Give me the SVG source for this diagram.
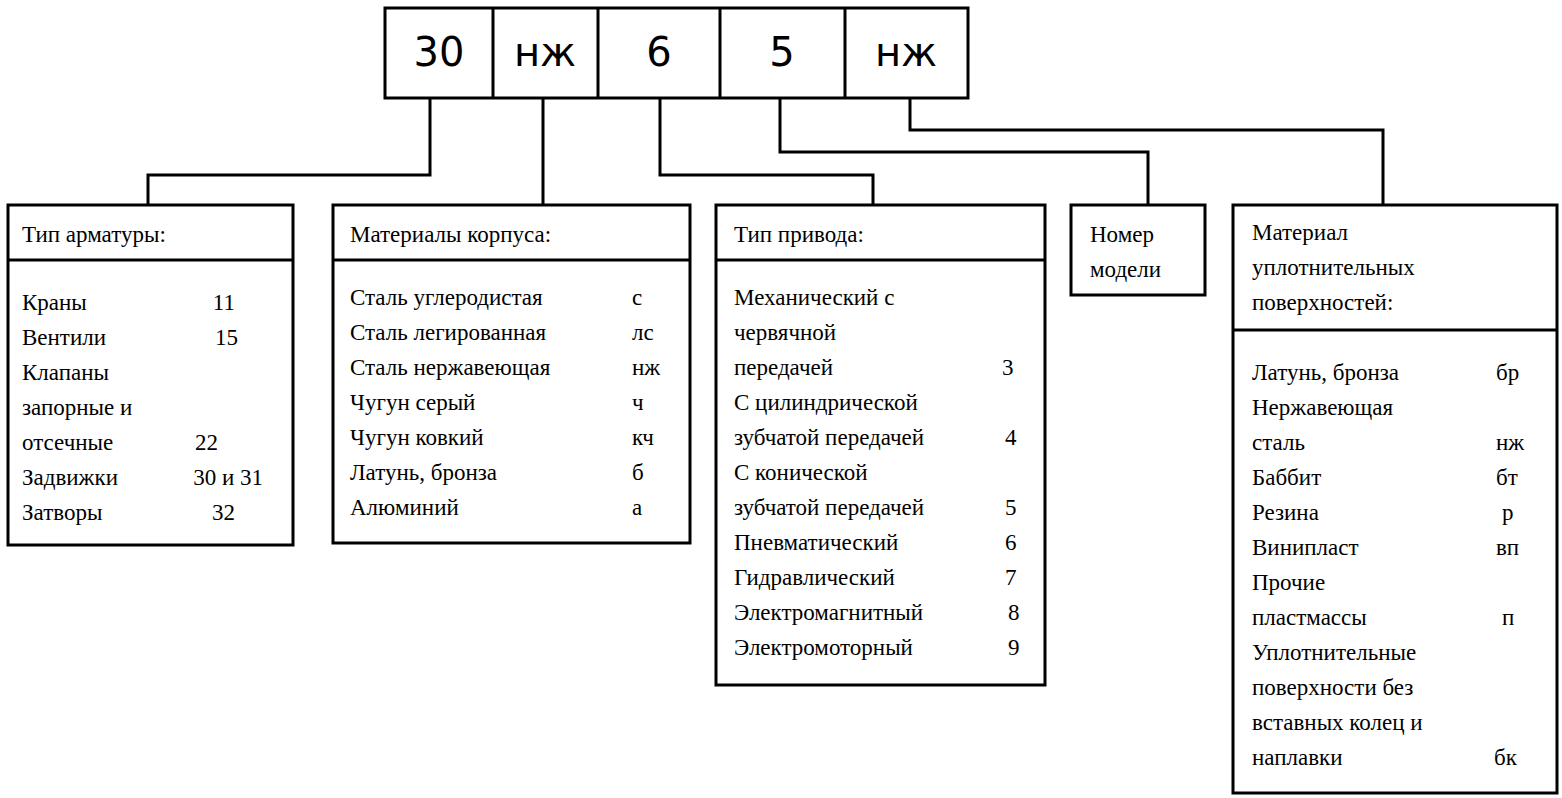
<svg xmlns="http://www.w3.org/2000/svg" width="1562" height="798" viewBox="0 0 1562 798">
<style>
.b{fill:#fff;stroke:#000;stroke-width:3}
.c{fill:none;stroke:#000;stroke-width:3}
.t{font-family:"Liberation Serif",serif;font-size:23px;fill:#000}
.n{text-anchor:end}
.h{font-family:"DejaVu Sans","Liberation Sans",sans-serif;font-size:40px;text-anchor:middle;fill:#000}
</style>
<rect width="1562" height="798" fill="#fff"/>
<g id="code">
<rect class="b" x="385" y="8" width="583" height="90"/>
<path class="c" d="M493 8V98M598 8V98M720 8V98M845 8V98"/>
<text class="h" x="439" y="66">30</text>
<text class="h" x="545" y="66">нж</text>
<text class="h" x="659" y="66">6</text>
<text class="h" x="782" y="66">5</text>
<text class="h" x="906" y="66">нж</text>
</g>
<g id="connectors">
<path class="c" d="M430 98V175H148V205"/>
<path class="c" d="M543 98V205"/>
<path class="c" d="M660 98V175H873V205"/>
<path class="c" d="M780 98V152H1148V205"/>
<path class="c" d="M910 98V130H1383V205"/>
</g>
<g id="box1">
<rect class="b" x="8" y="205" width="285" height="340"/>
<path class="c" d="M8 260H293"/>
<text class="t" x="22" y="242">Тип арматуры:</text>
<text class="t" x="22" y="310">Краны</text><text class="t n" x="235" y="310">11</text>
<text class="t" x="22" y="345">Вентили</text><text class="t n" x="238" y="345">15</text>
<text class="t" x="22" y="380">Клапаны</text>
<text class="t" x="22" y="415">запорные и</text>
<text class="t" x="22" y="450">отсечные</text><text class="t n" x="218" y="450">22</text>
<text class="t" x="22" y="485">Задвижки</text><text class="t n" x="263" y="485">30 и 31</text>
<text class="t" x="22" y="520">Затворы</text><text class="t n" x="235" y="520">32</text>
</g>
<g id="box2">
<rect class="b" x="333" y="205" width="357" height="338"/>
<path class="c" d="M333 260H690"/>
<text class="t" x="350" y="242">Материалы корпуса:</text>
<text class="t" x="350" y="305">Сталь углеродистая</text><text class="t" x="632" y="305">с</text>
<text class="t" x="350" y="340">Сталь легированная</text><text class="t" x="632" y="340">лс</text>
<text class="t" x="350" y="375">Сталь нержавеющая</text><text class="t" x="632" y="375">нж</text>
<text class="t" x="350" y="410">Чугун серый</text><text class="t" x="632" y="410">ч</text>
<text class="t" x="350" y="445">Чугун ковкий</text><text class="t" x="632" y="445">кч</text>
<text class="t" x="350" y="480">Латунь, бронза</text><text class="t" x="632" y="480">б</text>
<text class="t" x="350" y="515">Алюминий</text><text class="t" x="632" y="515">а</text>
</g>
<g id="box3">
<rect class="b" x="716" y="205" width="329" height="480"/>
<path class="c" d="M716 260H1045"/>
<text class="t" x="734" y="242">Тип привода:</text>
<text class="t" x="734" y="305">Механический с</text>
<text class="t" x="734" y="340">червячной</text>
<text class="t" x="734" y="375">передачей</text><text class="t" x="1002" y="375">3</text>
<text class="t" x="734" y="410">С цилиндрической</text>
<text class="t" x="734" y="445">зубчатой передачей</text><text class="t" x="1005" y="445">4</text>
<text class="t" x="734" y="480">С конической</text>
<text class="t" x="734" y="515">зубчатой передачей</text><text class="t" x="1005" y="515">5</text>
<text class="t" x="734" y="550">Пневматический</text><text class="t" x="1005" y="550">6</text>
<text class="t" x="734" y="585">Гидравлический</text><text class="t" x="1005" y="585">7</text>
<text class="t" x="734" y="620">Электромагнитный</text><text class="t" x="1008" y="620">8</text>
<text class="t" x="734" y="655">Электромоторный</text><text class="t" x="1008" y="655">9</text>
</g>
<g id="box4">
<rect class="b" x="1071" y="205" width="134" height="90"/>
<text class="t" x="1090" y="242">Номер</text>
<text class="t" x="1090" y="277">модели</text>
</g>
<g id="box5">
<rect class="b" x="1233" y="205" width="324" height="588"/>
<path class="c" d="M1233 330H1557"/>
<text class="t" x="1252" y="240">Материал</text>
<text class="t" x="1252" y="275">уплотнительных</text>
<text class="t" x="1252" y="310">поверхностей:</text>
<text class="t" x="1252" y="380">Латунь, бронза</text><text class="t" x="1496" y="380">бр</text>
<text class="t" x="1252" y="415">Нержавеющая</text>
<text class="t" x="1252" y="450">сталь</text><text class="t" x="1496" y="450">нж</text>
<text class="t" x="1252" y="485">Баббит</text><text class="t" x="1496" y="485">бт</text>
<text class="t" x="1252" y="520">Резина</text><text class="t" x="1502" y="520">р</text>
<text class="t" x="1252" y="555">Винипласт</text><text class="t" x="1496" y="555">вп</text>
<text class="t" x="1252" y="590">Прочие</text>
<text class="t" x="1252" y="625">пластмассы</text><text class="t" x="1502" y="625">п</text>
<text class="t" x="1252" y="660">Уплотнительные</text>
<text class="t" x="1252" y="695">поверхности без</text>
<text class="t" x="1252" y="730">вставных колец и</text>
<text class="t" x="1252" y="765">наплавки</text><text class="t" x="1494" y="765">бк</text>
</g>
</svg>
